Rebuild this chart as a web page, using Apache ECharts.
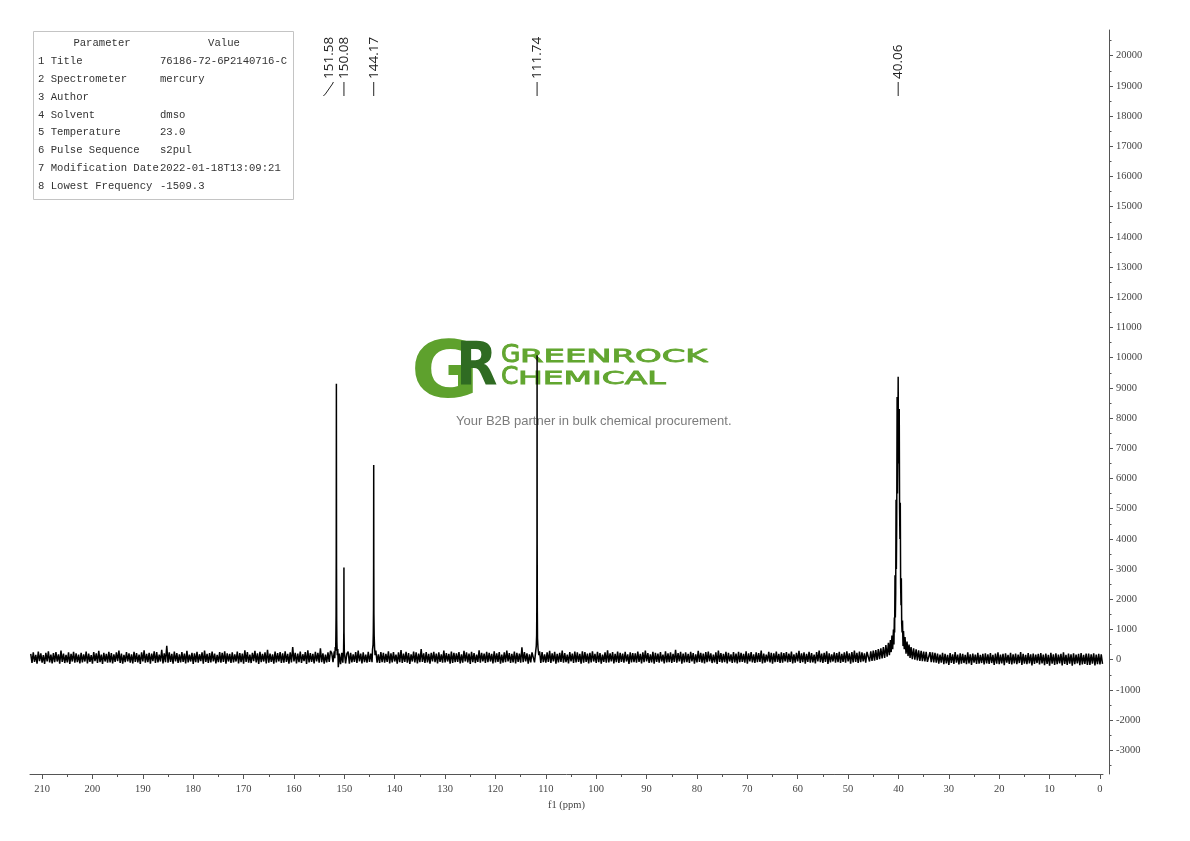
<!DOCTYPE html>
<html><head><meta charset="utf-8">
<script src="https://cdn.jsdelivr.net/npm/echarts@6/dist/echarts.min.js"></script>
<style>html,body{margin:0;padding:0;background:#fff}#c{width:1190px;height:841px}</style>
</head><body><div id="c"></div>
<script>
// ---------- axis ranges & ticks ----------
const xMin = -0.6, xMax = 212.4;
const yMin = -3785, yMax = 20851;
const xMajor = [0,10,20,30,40,50,60,70,80,90,100,110,120,130,140,150,160,170,180,190,200,210];
const xMinor = [5,15,25,35,45,55,65,75,85,95,105,115,125,135,145,155,165,175,185,195,205];
const yMajor = [-3000,-2000,-1000,0,1000,2000,3000,4000,5000,6000,7000,8000,9000,10000,11000,12000,13000,14000,15000,16000,17000,18000,19000,20000];
const yMinor = [-3500,-2500,-1500,-500,500,1500,2500,3500,4500,5500,6500,7500,8500,9500,10500,11500,12500,13500,14500,15500,16500,17500,18500,19500,20500];

// ---------- peak labels ----------
const peakPpm = [151.58, 150.08, 144.17, 111.74, 40.06];
const peakText = ['151.58', '150.08', '144.17', '111.74', '40.06'];

// ---------- baseline noise, one value per 0.25 ppm from 212.25 ppm ----------
const noiseStart = 212.25, noiseStep = 0.25;
const noise = [
190,-110,240,-70,160,-130,270,-50,210,-100,150,-140,230,-60,280,-90,170,-120,220,-80,250,-60,180,-130,300,-70,200,-110,160,-90,240,-140,190,-60,260,-100,210,-80,170,-120,
230,-90,180,-60,270,-120,200,-70,150,-130,250,-50,210,-110,290,-80,170,-140,230,-60,190,-100,260,-90,220,-120,180,-70,240,-50,300,-110,200,-130,160,-80,250,-60,210,-100,
180,-120,260,-70,220,-90,170,-140,240,-60,310,-100,190,-80,230,-130,200,-50,280,-110,250,-90,170,-60,330,-120,210,-80,460,-100,240,-70,190,-130,270,-60,220,-110,180,-90,
250,-70,200,-120,290,-90,170,-60,230,-140,210,-80,260,-100,180,-50,240,-130,300,-70,190,-110,220,-90,270,-60,200,-120,160,-80,250,-100,230,-70,280,-130,210,-60,190,-110,
240,-90,180,-60,270,-120,220,-80,200,-130,310,-70,250,-100,170,-110,230,-50,290,-90,210,-140,260,-80,190,-60,240,-120,330,-100,200,-70,180,-130,270,-90,220,-60,250,-110,
210,-100,280,-70,190,-130,240,-90,420,-60,230,-120,200,-80,270,-110,180,-50,250,-140,310,-90,220,-70,190,-120,260,-60,230,-100,380,-80,210,-130,170,-90,240,-70,290,-110,
200,-90,260,-70,220,-120,190,-80,240,-100,210,-60,270,-130,230,-90,180,-70,250,-110,300,-60,200,-120,240,-80,170,-100,260,-70,210,-130,290,-90,230,-60,180,-110,250,-80,
230,-100,190,-70,280,-120,210,-90,250,-60,170,-130,240,-80,320,-110,200,-70,260,-100,220,-140,180,-60,270,-90,240,-120,200,-80,350,-70,210,-110,250,-90,190,-130,230,-60,
260,-80,200,-120,240,-70,180,-100,300,-90,220,-60,190,-130,270,-110,230,-80,210,-70,250,-120,180,-100,290,-60,240,-90,200,-140,260,-80,220,-110,170,-70,310,-100,230,-60,
200,-110,260,-80,230,-60,190,-120,280,-90,210,-70,250,-130,170,-100,240,-80,300,-60,220,-110,190,-90,270,-120,230,-70,200,-100,410,-80,250,-60,210,-130,180,-90,240,-110,
230,-90,270,-60,200,-120,250,-80,180,-100,240,-70,290,-110,210,-60,260,-130,190,-90,230,-70,300,-100,220,-80,170,-120,250,-60,200,-110,270,-90,240,-70,190,-130,280,-100,
250,-70,200,-120,230,-90,280,-60,190,-110,260,-80,220,-130,170,-70,240,-100,310,-90,210,-60,250,-120,190,-80,270,-110,230,-70,200,-100,260,-60,180,-140,240,-90,220,-80,
210,-100,270,-70,190,-120,240,-80,300,-60,220,-110,180,-90,260,-130,230,-70,200,-100,250,-60,170,-120,280,-90,210,-80,240,-110,190,-70,330,-100,220,-60,260,-130,200,-90,
240,-80,190,-110,260,-60,220,-130,180,-90,290,-70,230,-100,200,-120,250,-80,270,-60,210,-110,170,-90,240,-140,300,-70,220,-100,190,-80,260,-120,230,-60,180,-110,250,-90,
200,-120,260,-80,230,-70,190,-100,280,-130,210,-60,250,-90,180,-110,240,-80,220,-70,300,-120,200,-100,170,-60,260,-90,230,-130,210,-80,270,-70,190,-110,240,-100,220,-60,
250,-90,200,-70,270,-120,180,-100,230,-60,290,-110,210,-80,240,-130,190,-70,260,-100,220,-90,170,-120,250,-60,300,-80,200,-110,230,-70,280,-140,210,-90,180,-60,240,-100,
220,-80,260,-110,190,-70,240,-100,280,-60,210,-130,250,-90,300,-70,230,-110,270,-80,240,-60,210,-100,260,-70,230,-90,280,-60,250,-80,290,-50,260,-70,300,-40,280,-60,
400,20,420,40,450,60,480,80,500,100,480,80,460,60,440,40,420,20,400,0,380,-10,360,-20,340,-30,320,-40,300,-50,280,-60,270,-60,250,-80,240,-90,230,-100,
200,-130,170,-100,230,-150,190,-120,160,-170,220,-110,180,-140,250,-100,170,-160,210,-130,190,-110,160,-150,240,-120,180,-170,200,-100,170,-140,230,-130,160,-110,190,-160,210,-120,
180,-140,220,-110,160,-170,200,-130,240,-150,170,-120,190,-180,210,-100,160,-140,230,-160,180,-120,200,-150,170,-110,250,-170,190,-130,160,-150,220,-120,180,-190,200,-140,170,-110,
190,-160,220,-120,170,-180,200,-140,160,-200,230,-130,180,-170,210,-150,170,-120,190,-190,240,-140,160,-170,200,-130,180,-200,210,-150,170,-120,190,-180,220,-160,160,-140,200,-170,
200,-170,180,-130,210,-190,170,-150,190,-160,180,-140
];

// ---------- peak regions [ppm, intensity] ----------
const peaks150 = [
[152.5,220],[152.25,-80],[152.0,280],[151.9,50],[151.8,420],[151.72,300],[151.68,800],[151.64,1500],[151.61,3500],
[151.58,9140],[151.55,3000],[151.52,1300],[151.48,600],[151.4,150],[151.3,350],[151.2,-250],[151.0,200],[150.75,-150],
[150.5,230],[150.3,-100],[150.15,300],[150.1,1000],[150.08,3050],[150.06,900],[150.0,250],[149.75,-120],[149.5,200]
];
const peak144 = [
[144.75,200],[144.5,-80],[144.4,350],[144.3,500],[144.25,900],[144.21,1700],[144.19,3200],[144.17,6450],
[144.15,3000],[144.13,1500],[144.08,800],[144.0,400],[143.9,150],[143.75,300],[143.5,-100]
];
const peak111 = [
[112.5,230],[112.25,-90],[112.0,300],[111.9,450],[111.83,800],[111.79,1800],[111.76,4000],[111.74,10080],
[111.72,3800],[111.69,1600],[111.65,700],[111.55,380],[111.4,150],[111.25,280],[111.0,-110]
];
const peakDmso = [
[46.0,250],[45.75,-60],[45.5,280],[45.25,-40],[45.0,300],[44.75,-30],[44.5,320],[44.25,-10],[44.0,350],[43.75,20],
[43.5,380],[43.25,40],[43.0,420],[42.75,60],[42.5,480],[42.25,100],[42.0,560],[41.8,150],[41.6,650],[41.45,250],
[41.3,800],[41.15,350],[41.0,1000],[40.9,500],[40.82,1400],[40.76,900],[40.69,2800],[40.62,1400],[40.55,2200],
[40.48,5300],[40.42,3000],[40.35,4500],[40.27,8700],[40.2,5500],[40.13,7000],[40.06,9370],[40.0,6500],[39.93,7200],
[39.85,8300],[39.78,5000],[39.71,4000],[39.64,5200],[39.57,2500],[39.5,1800],[39.43,2700],[39.36,1200],[39.28,900],
[39.2,1300],[39.1,450],[39.0,950],[38.85,350],[38.7,750],[38.5,200],[38.3,600],[38.1,120],[37.9,500],[37.7,60],
[37.5,420],[37.25,20],[37.0,380],[36.75,0],[36.5,340],[36.25,-20],[36.0,310],[35.75,-40],[35.5,290],[35.25,-50],
[35.0,270],[34.75,-60],[34.5,260],[34.25,-70]
];

// ---------- parameter table ----------
const tableParams = ['1 Title','2 Spectrometer','3 Author','4 Solvent','5 Temperature','6 Pulse Sequence','7 Modification Date','8 Lowest Frequency'];
const tableValues = ['76186-72-6P2140716-C','mercury','','dmso','23.0','s2pul','2022-01-18T13:09:21','-1509.3'];

// ---------- build spectrum ----------
const shapes = [peaks150, peak144, peak111, peakDmso];
const windows = shapes.map(s => [Math.min(...s.map(p => p[0])), Math.max(...s.map(p => p[0]))]);
const spec = [];
noise.forEach((v, i) => {
  const p = +(noiseStart - i * noiseStep).toFixed(3);
  if (!windows.some(w => p >= w[0] && p <= w[1])) spec.push([p, v]);
});
shapes.forEach(s => s.forEach(p => spec.push(p)));
spec.sort((a, b) => b[0] - a[0]);

const serif = '"Liberation Serif", "DejaVu Serif", serif';
const axisColor = '#555';
const labelColor = '#444';

const chart = echarts.init(document.getElementById('c'), null, {renderer: 'canvas'});
chart.setOption({
  animation: false,
  backgroundColor: '#fff',
  grid: {left: 30, right: 87, top: 30, bottom: 67, containLabel: false},
  xAxis: [{
    type: 'value', inverse: true, min: xMin, max: xMax, position: 'bottom',
    name: 'f1 (ppm)', nameLocation: 'middle', nameGap: 22,
    nameTextStyle: {fontFamily: serif, fontSize: 10.5, color: labelColor},
    axisLine: {show: true, onZero: false, lineStyle: {color: axisColor, width: 1}},
    axisTick: {show: true, inside: false, length: 5, customValues: xMajor, lineStyle: {color: axisColor}},
    axisLabel: {show: true, customValues: xMajor, margin: 10, fontFamily: serif, fontSize: 10.5, color: labelColor, formatter: v => String(v)},
    splitLine: {show: false}
  }, {
    type: 'value', inverse: true, min: xMin, max: xMax, position: 'bottom', offset: 0,
    axisLine: {show: false, onZero: false},
    axisTick: {show: true, inside: false, length: 3, customValues: xMinor, lineStyle: {color: axisColor}},
    axisLabel: {show: false},
    splitLine: {show: false}
  }],
  yAxis: [{
    type: 'value', min: yMin, max: yMax, position: 'right', offset: 6,
    axisLine: {show: true, onZero: false, lineStyle: {color: axisColor, width: 1}},
    axisTick: {show: true, inside: false, length: 4, customValues: yMajor, lineStyle: {color: axisColor}},
    axisLabel: {show: true, customValues: yMajor, margin: 7, fontFamily: serif, fontSize: 10.5, color: labelColor, formatter: v => String(v)},
    splitLine: {show: false}
  }, {
    type: 'value', min: yMin, max: yMax, position: 'right', offset: 6,
    axisLine: {show: false, onZero: false},
    axisTick: {show: true, inside: false, length: 2.5, customValues: yMinor, lineStyle: {color: axisColor}},
    axisLabel: {show: false},
    splitLine: {show: false}
  }],
  series: [{
    type: 'line', xAxisIndex: 0, yAxisIndex: 0, data: spec,
    symbol: 'none', showSymbol: false, smooth: false, z: 5,
    lineStyle: {color: '#000', width: 1.5},
    silent: true
  }]
});

// ---------- overlay graphics ----------
const g = [];
// table
const mono = '"Liberation Mono", "DejaVu Sans Mono", monospace';
g.push({type: 'rect', shape: {x: 33.5, y: 31.5, width: 260, height: 168}, style: {fill: 'none', stroke: '#c4c4c4', lineWidth: 1}, z: 10});
g.push({type: 'text', x: 102, y: 43, style: {text: 'Parameter', font: '10.6px ' + mono, fill: '#333', textAlign: 'center', textVerticalAlign: 'middle'}, z: 10});
g.push({type: 'text', x: 224, y: 43, style: {text: 'Value', font: '10.6px ' + mono, fill: '#333', textAlign: 'center', textVerticalAlign: 'middle'}, z: 10});
tableParams.forEach((t, i) => {
  const yy = 61 + i * 17.9;
  g.push({type: 'text', x: 38, y: yy, style: {text: t, font: '10.6px ' + mono, fill: '#333', textAlign: 'left', textVerticalAlign: 'middle'}, z: 10});
  g.push({type: 'text', x: 160, y: yy, style: {text: tableValues[i], font: '10.6px ' + mono, fill: '#333', textAlign: 'left', textVerticalAlign: 'middle'}, z: 10});
});

// peak labels
const sans = '"Open Sans", "Noto Sans", sans-serif';
peakPpm.forEach((p, i) => {
  const px = chart.convertToPixel({xAxisIndex: 0}, p);
  const lx = i === 0 ? px - 7 : px;
  g.push({type: 'text', x: lx, y: 79, rotation: Math.PI / 2,
    style: {text: peakText[i], font: '13.5px ' + sans, fill: '#222', textAlign: 'left', textVerticalAlign: 'middle'}, z: 10});
  if (i === 0) {
    g.push({type: 'polyline', shape: {points: [[lx + 4, 82], [lx + 3, 84], [lx - 4, 94], [lx - 6, 96]]}, style: {stroke: '#222', lineWidth: 1, fill: 'none'}, z: 10});
  } else {
    g.push({type: 'line', shape: {x1: lx, y1: 82, x2: lx, y2: 96}, style: {stroke: '#222', lineWidth: 1}, z: 10});
  }
});

// watermark logo
const dj = '"DejaVu Sans", sans-serif';
const green = '#62a630';
g.push({type: 'text', x: 411, y: 377, scaleX: 1.06, style: {text: 'G', font: 'bold 78px ' + dj, fill: '#5ea12d', textAlign: 'left', textVerticalAlign: 'middle'}, z: 0});
g.push({type: 'text', x: 456, y: 369, scaleX: 0.9, style: {text: 'R', font: 'bold 60px ' + dj, fill: '#2f6b22', textAlign: 'left', textVerticalAlign: 'middle'}, z: 0});
g.push({type: 'text', x: 501, y: 355.7, style: {text: 'G', font: '25px ' + dj, fill: green, stroke: green, lineWidth: 0.9, textAlign: 'left', textVerticalAlign: 'middle'}, z: 0});
g.push({type: 'text', x: 520, y: 357.7, scaleX: 1.88, style: {text: 'REENROCK', font: '18px ' + dj, fill: green, stroke: green, lineWidth: 0.8, textAlign: 'left', textVerticalAlign: 'middle'}, z: 0});
g.push({type: 'text', x: 501, y: 377.7, style: {text: 'C', font: '25px ' + dj, fill: green, stroke: green, lineWidth: 0.9, textAlign: 'left', textVerticalAlign: 'middle'}, z: 0});
g.push({type: 'text', x: 518, y: 379.7, scaleX: 1.83, style: {text: 'HEMICAL', font: '18px ' + dj, fill: green, stroke: green, lineWidth: 0.8, textAlign: 'left', textVerticalAlign: 'middle'}, z: 0});
g.push({type: 'text', x: 456, y: 421, style: {text: 'Your B2B partner in bulk chemical procurement.', font: '13px "Liberation Sans", Arial, sans-serif', fill: '#7c7c7c', textAlign: 'left', textVerticalAlign: 'middle'}, z: 0});

chart.setOption({graphic: g});
</script>
</body></html>
